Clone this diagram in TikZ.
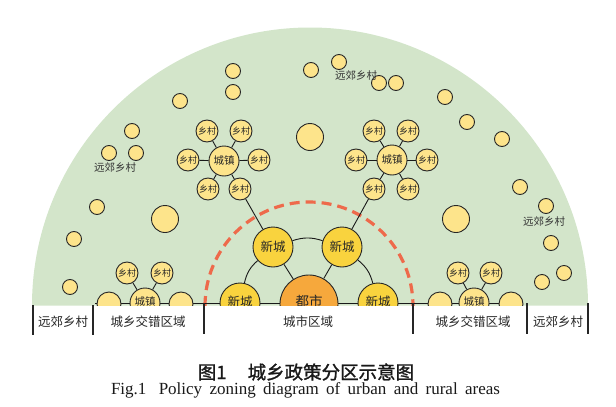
\documentclass[tikz,border=0pt]{standalone}
\usepackage{fontspec}
\setmainfont{Liberation Serif}
\newfontfamily\cjk{Noto Sans CJK SC}
\newfontfamily\cjkb[FakeBold=1.2]{Noto Sans CJK SC}
\definecolor{bgg}{HTML}{D3E5CA}
\definecolor{lt}{HTML}{FDE48B}
\definecolor{nc}{HTML}{F9D33E}
\definecolor{mt}{HTML}{F6A83C}
\definecolor{rd}{HTML}{EE6A4B}
\pgfdeclarelayer{back}
\pgfsetlayers{back,main}
\begin{document}
\begin{tikzpicture}[x=1pt,y=-1pt,
  dotc/.style={circle,draw=black!85,line width=0.9pt,fill=lt,inner sep=0pt,text=black!85},
  sdot/.style={dotc,minimum size=15pt},
  bdot/.style={dotc,minimum size=27pt},
  sidec/.style={dotc,minimum size=24pt},
  vil/.style={dotc,minimum size=22pt,font=\cjk\fontsize{9}{9}\selectfont},
  town/.style={dotc,minimum size=30pt,font=\cjk\fontsize{10.5}{10.5}\selectfont},
  newc/.style={dotc,fill=nc,minimum size=40pt,font=\cjk\fontsize{12.5}{12.5}\selectfont},
  metro/.style={dotc,fill=mt,minimum size=58pt,font=\cjk\fontsize{13.5}{13.5}\selectfont},
  link/.style={draw=black!90,line width=0.9pt},
  flbl/.style={font=\cjk\fontsize{10.5}{10.5}\selectfont,text=black!80},
  bandlbl/.style={font=\cjk\fontsize{12.5}{12.5}\selectfont,text=black!85},
  divl/.style={line width=1.4pt,draw=black!85}]
\useasboundingbox (0,0) rectangle (616,407);
\begin{pgfonlayer}{back}
  \fill[bgg] (32,305.5) arc[start angle=180,end angle=0,radius=278pt] -- cycle;
  \draw[rd,line width=3.2pt,dash pattern=on 10pt off 6pt] (205,306) arc[start angle=180,end angle=0,radius=104pt];
\end{pgfonlayer}

% central city
\node[metro] (M) at (309,304) {\raisebox{7pt}{都市}};
\node[newc] (N1) at (240,303) {\raisebox{4pt}{新城}};
\node[newc] (N2) at (273,247) {新城};
\node[newc] (N3) at (342,247) {新城};
\node[newc] (N4) at (378,303) {\raisebox{4pt}{新城}};

% upper left cluster
\node[town] (T1) at (224,161) {城镇};
\node[vil] (V1a) at (207,131) {乡村};
\node[vil] (V1b) at (241,131) {乡村};
\node[vil] (V1c) at (188,160) {乡村};
\node[vil] (V1d) at (259,160) {乡村};
\node[vil] (V1e) at (208,189) {乡村};
\node[vil] (V1f) at (240,189) {乡村};
% upper right cluster
\node[town] (T2) at (392,160) {城镇};
\node[vil] (V2a) at (374,131) {乡村};
\node[vil] (V2b) at (408,131) {乡村};
\node[vil] (V2c) at (356,160) {乡村};
\node[vil] (V2d) at (427,160) {乡村};
\node[vil] (V2e) at (374,189) {乡村};
\node[vil] (V2f) at (408,189) {乡村};
% lower left cluster
\node[sidec] (S3a) at (109,304) {};
\node[sidec] (S3b) at (181,304) {};
\node[town] (T3) at (145,303) {\raisebox{3pt}{城镇}};
\node[vil] (V3a) at (127,273) {乡村};
\node[vil] (V3b) at (162,273) {乡村};
% lower right cluster
\node[sidec] (S4a) at (440,304) {};
\node[sidec] (S4b) at (511,304) {};
\node[town] (T4) at (474,303) {\raisebox{3pt}{城镇}};
\node[vil] (V4a) at (458,273) {乡村};
\node[vil] (V4b) at (491,273) {乡村};

% loose dots
\node[sdot] (d1) at (233,71) {};
\node[sdot] (d2) at (233,92) {};
\node[sdot] (d3) at (180,101) {};
\node[sdot] (d4) at (132,131) {};
\node[sdot] (d5) at (109,153) {};
\node[sdot] (d6) at (136,153) {};
\node[sdot] (d7) at (311,70) {};
\node[sdot] (d8) at (339,62) {};
\node[sdot] (d9) at (379,83) {};
\node[sdot] (d10) at (396,83) {};
\node[sdot] (d11) at (445,97) {};
\node[sdot] (d12) at (467,122) {};
\node[sdot] (d13) at (502,139) {};
\node[sdot] (d14) at (520,187) {};
\node[sdot] (d15) at (97,207) {};
\node[sdot] (d16) at (74,239) {};
\node[sdot] (d17) at (70,287) {};
\node[sdot] (d18) at (546,206) {};
\node[sdot] (d19) at (551,243) {};
\node[sdot] (d20) at (564,273) {};
\node[sdot] (d21) at (542,282) {};
\node[bdot] (b1) at (310,137) {};
\node[bdot] (b2) at (165,219) {};
\node[bdot] (b3) at (456,219) {};

% floating labels
\node[flbl] (f1) at (115,168) {远郊乡村};
\node[flbl] (f2) at (356,76) {远郊乡村};
\node[flbl] (f3) at (544,222) {远郊乡村};

\coordinate (bl) at (95,303);
\coordinate (br) at (523,303);

\begin{pgfonlayer}{back}
  \draw[link] (bl) -- (br);
  \foreach \v in {V1a,V1b,V1c,V1d,V1e,V1f} \draw[link] (T1) -- (\v);
  \foreach \v in {V2a,V2b,V2c,V2d,V2e,V2f} \draw[link] (T2) -- (\v);
  \foreach \v in {V3a,V3b} \draw[link] (T3) -- (\v);
  \foreach \v in {V4a,V4b} \draw[link] (T4) -- (\v);
  \draw[link] (M) -- (N2);
  \draw[link] (M) -- (N3);
  \draw[link] (N2) to[bend right=18] (N1);
  \draw[link] (N2) to[bend left=18] (N3);
  \draw[link] (N3) to[bend left=18] (N4);
  \draw[link] (N2) -- (V1f);
  \draw[link] (N3) -- (V2e);
\end{pgfonlayer}

% white band covering lower parts
\fill[white] (0,305.5) rectangle (616,407);

% dividers
\coordinate (k1t) at (33,305); \coordinate (k1b) at (33,335);
\coordinate (k2t) at (93,305); \coordinate (k2b) at (93,335);
\coordinate (k3t) at (204,303); \coordinate (k3b) at (204,334);
\coordinate (k4t) at (413,303); \coordinate (k4b) at (413,334);
\coordinate (k5t) at (527,303); \coordinate (k5b) at (527,334);
\coordinate (k6t) at (588,303); \coordinate (k6b) at (588,334);
\foreach \k in {1,...,6} \draw[divl] (k\k t) -- (k\k b);

\node[bandlbl] (z1) at (63,322) {远郊乡村};
\node[bandlbl] (z2) at (148,322) {城乡交错区域};
\node[bandlbl] (z3) at (308,322) {城市区域};
\node[bandlbl] (z4) at (473,322) {城乡交错区域};
\node[bandlbl] (z5) at (558,322) {远郊乡村};

\node[font=\cjkb\fontsize{18.5}{18.5}\selectfont,text=black!90] (cap1) at (306,372) {图1\hspace{21pt}城乡政策分区示意图};
\node[font=\fontsize{17}{17}\selectfont,text=black!90] (cap2) at (305.5,390) {\makebox[389pt][s]{Fig.1\hspace{5pt} Policy zoning diagram of urban and rural areas}};
\end{tikzpicture}
\end{document}
